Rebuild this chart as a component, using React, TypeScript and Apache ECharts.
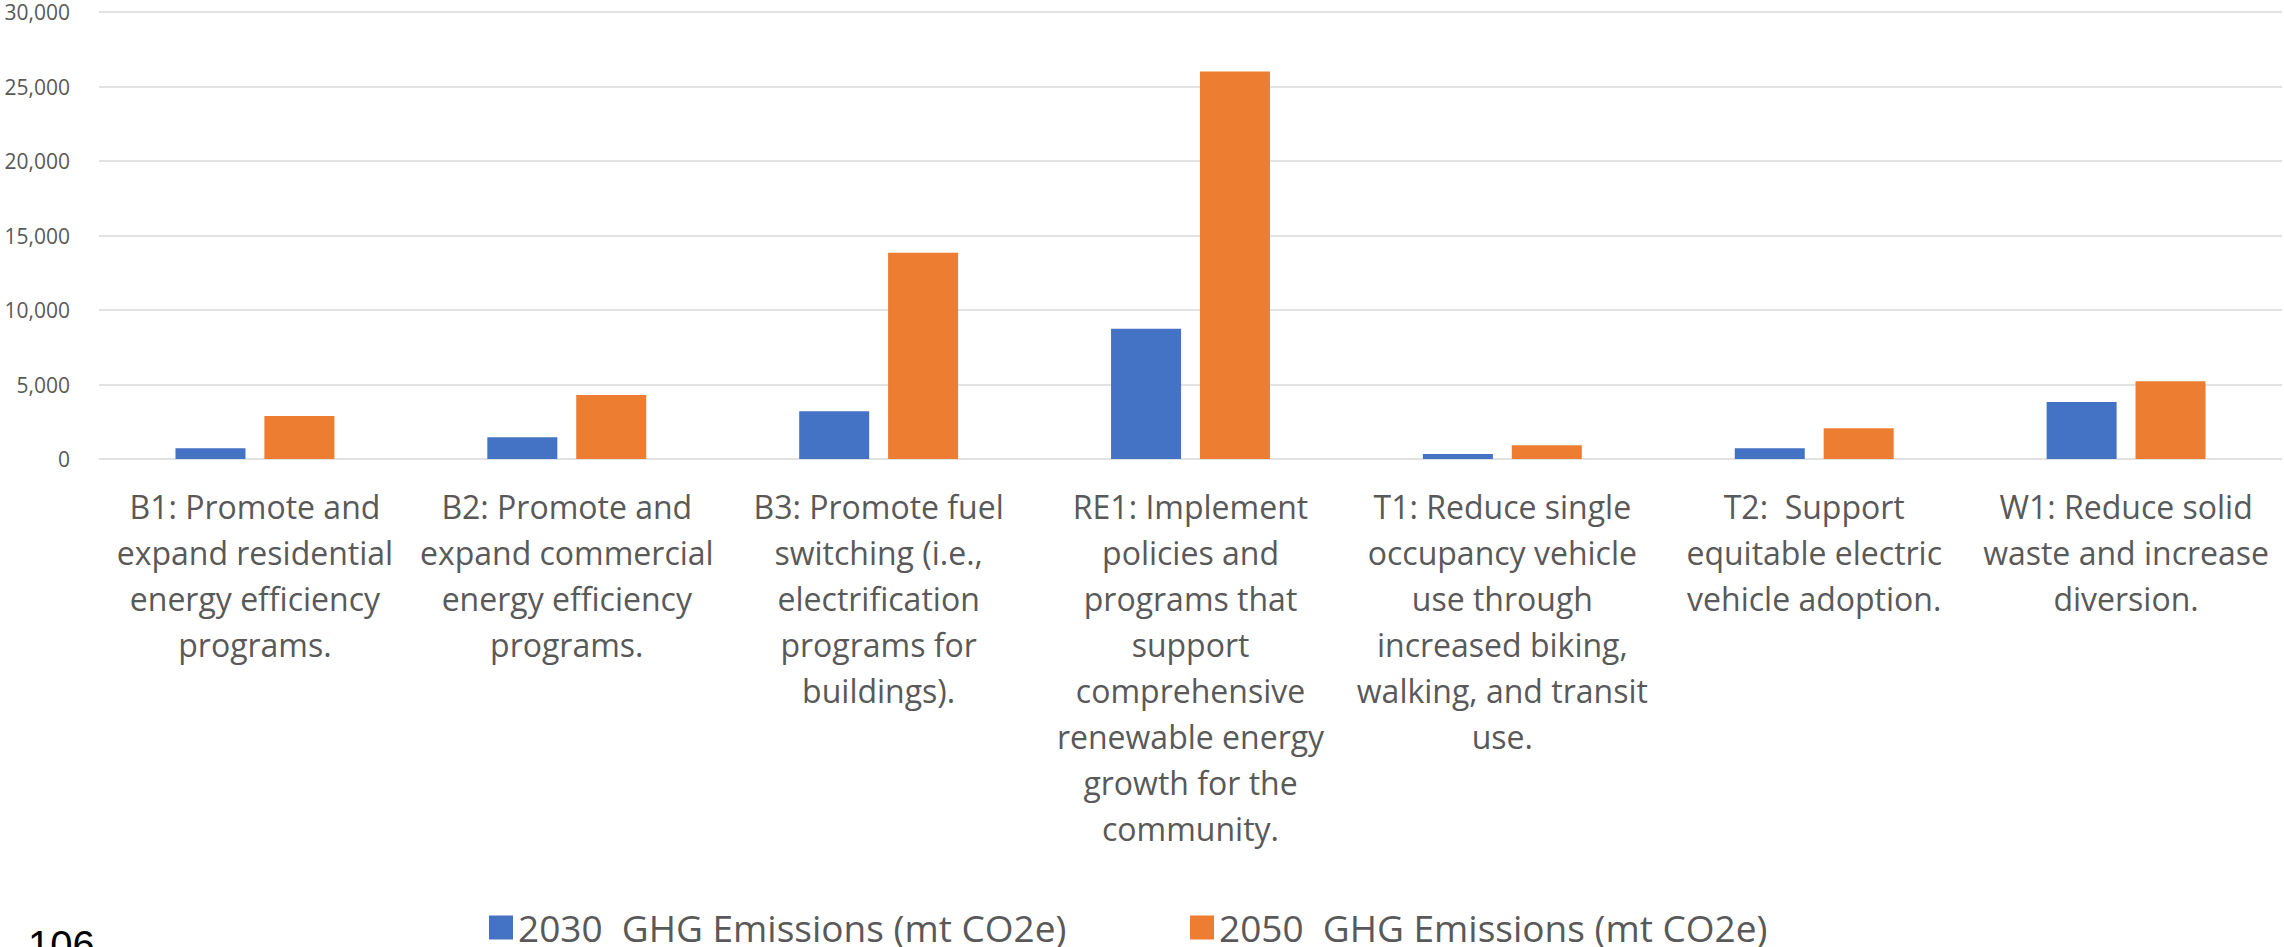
import React, { useEffect, useRef } from "react";
import * as echarts from "echarts";

const categories: string[] = [
  "B1: Promote and\nexpand residential\nenergy efficiency\nprograms.",
  "B2: Promote and\nexpand commercial\nenergy efficiency\nprograms.",
  "B3: Promote fuel\nswitching (i.e.,\nelectrification\nprograms for\nbuildings).",
  "RE1: Implement\npolicies and\nprograms that\nsupport\ncomprehensive\nrenewable energy\ngrowth for the\ncommunity.",
  "T1: Reduce single\noccupancy vehicle\nuse through\nincreased biking,\nwalking, and transit\nuse.",
  "T2:  Support\nequitable electric\nvehicle adoption.",
  "W1: Reduce solid\nwaste and increase\ndiversion.",
];

const seriesNames: string[] = [
  "2030  GHG Emissions (mt CO2e)",
  "2050  GHG Emissions (mt CO2e)",
];

const values2030: number[] = [720, 1460, 3200, 8750, 340, 720, 3830];
const values2050: number[] = [2890, 4300, 13850, 26000, 930, 2070, 5220];

const yTicks: number[] = [0, 5000, 10000, 15000, 20000, 25000, 30000];
const pageNumber = "106";

export default function App() {
  const ref = useRef<HTMLDivElement>(null);

  useEffect(() => {
    if (!ref.current) return;
    const chart = echarts.init(ref.current, undefined, { renderer: "svg" });
    const font = "'Open Sans', 'Noto Sans', sans-serif";
    const legendText = { color: "#595959", fontFamily: font, fontSize: 37, lineHeight: 36 };
    chart.setOption({
      animation: false,
      backgroundColor: "#ffffff",
      grid: { left: 99, right: 2, top: 12, bottom: 488, containLabel: false },
      legend: [
        {
          data: [seriesNames[0]],
          left: 489,
          top: 909,
          padding: 0,
          itemWidth: 24,
          itemHeight: 24,
          icon: "rect",
          textStyle: legendText,
        },
        {
          data: [seriesNames[1]],
          left: 1190,
          top: 909,
          padding: 0,
          itemWidth: 24,
          itemHeight: 24,
          icon: "rect",
          textStyle: legendText,
        },
      ],
      xAxis: {
        type: "category",
        data: categories,
        axisLine: { show: false },
        axisTick: { show: false },
        axisLabel: {
          interval: 0,
          hideOverlap: false,
          margin: 24,
          color: "#595959",
          fontFamily: font,
          fontSize: 32,
          lineHeight: 46,
          align: "center",
        },
      },
      yAxis: {
        type: "value",
        min: yTicks[0],
        max: yTicks[yTicks.length - 1],
        interval: yTicks[1] - yTicks[0],
        axisLine: { show: false },
        axisTick: { show: false },
        splitLine: { lineStyle: { color: "#d9d9d9", width: 1.5 } },
        axisLabel: {
          margin: 29,
          color: "#595959",
          fontFamily: font,
          fontSize: 21,
          lineHeight: 20,
          formatter: (v: number) => v.toLocaleString("en-US"),
        },
      },
      series: [
        {
          name: seriesNames[0],
          type: "bar",
          data: values2030,
          barWidth: 70,
          barGap: "27%",
          itemStyle: { color: "#4472C4" },
        },
        {
          name: seriesNames[1],
          type: "bar",
          data: values2050,
          barWidth: 70,
          barGap: "27%",
          itemStyle: { color: "#ED7D31" },
        },
      ],
      graphic: [
        {
          type: "text",
          left: 28,
          top: 925,
          style: {
            text: pageNumber,
            fill: "#000000",
            font: "40px 'Liberation Sans', Arial, sans-serif",
          },
        },
      ],
    });
    return () => chart.dispose();
  }, []);

  return (
    <div
      ref={ref}
      style={{ position: "absolute", left: 0, top: 0, width: 2284, height: 947 }}
    />
  );
}
